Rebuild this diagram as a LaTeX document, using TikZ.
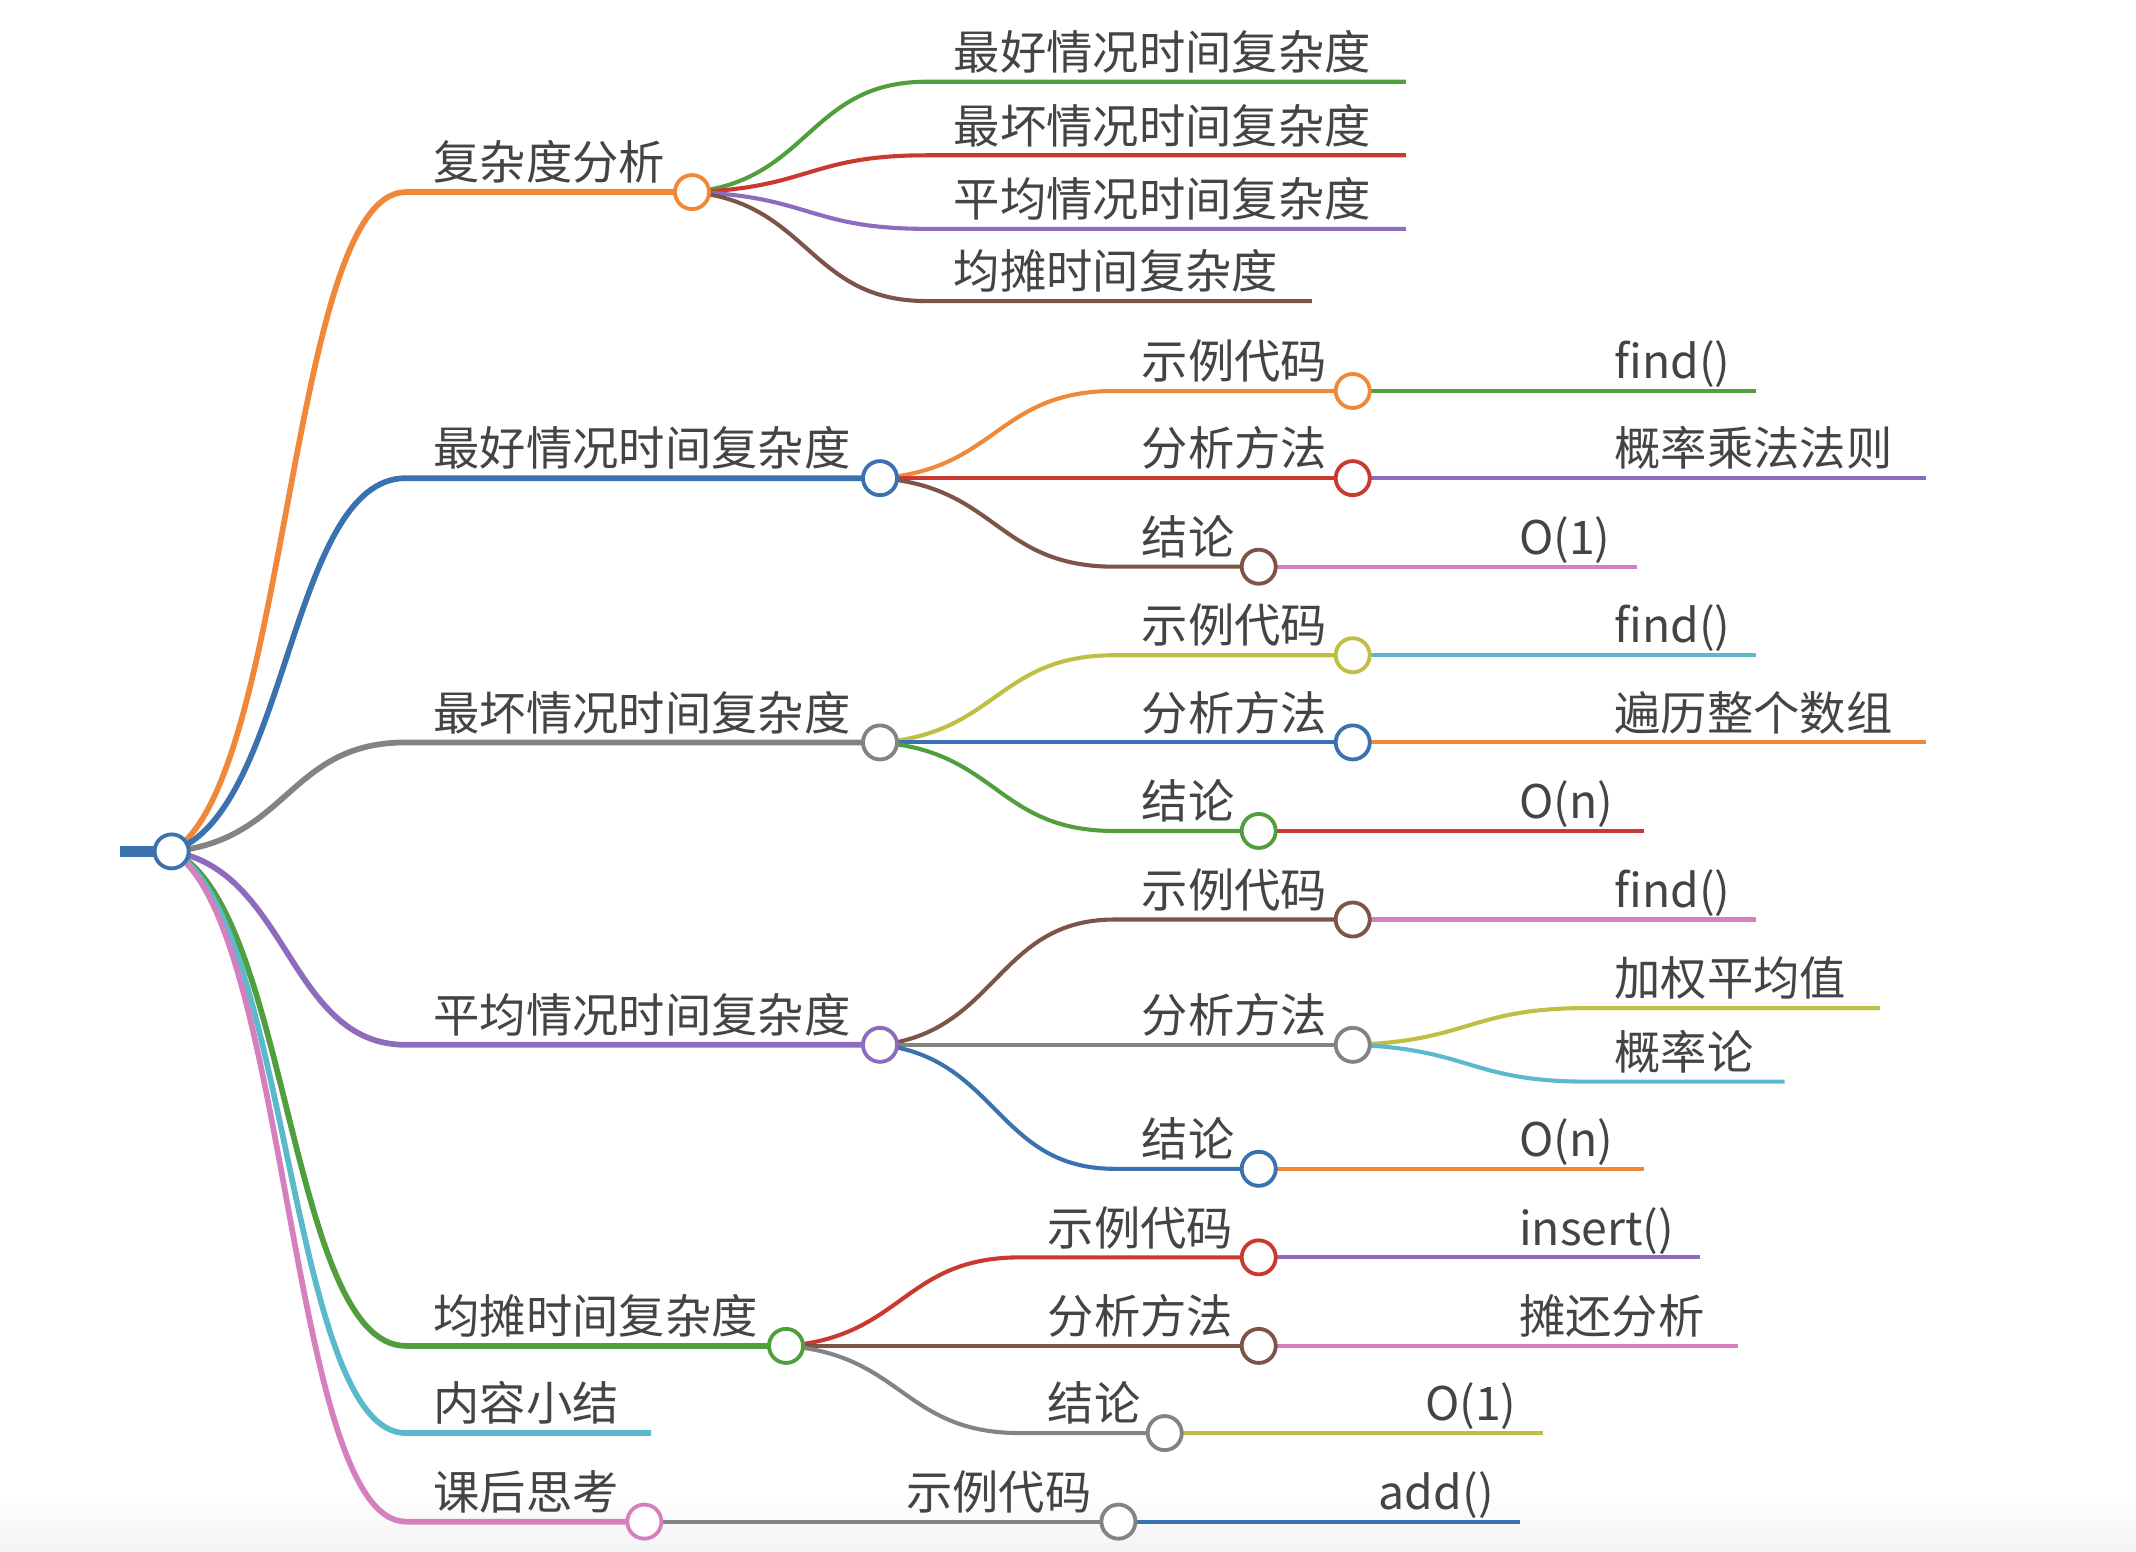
\documentclass[tikz,border=0pt]{standalone}
\usepackage{fontspec}
\setmainfont{Noto Sans CJK SC}
\usetikzlibrary{calc}
\pgfdeclarelayer{bg}
\pgfdeclarelayer{paper}
\pgfsetlayers{paper,bg,main}
\definecolor{cOr}{HTML}{F0883A}
\definecolor{cBl}{HTML}{3A72B0}
\definecolor{cGy}{HTML}{838383}
\definecolor{cPu}{HTML}{8D6BBD}
\definecolor{cGr}{HTML}{519E3E}
\definecolor{cCy}{HTML}{5ABACB}
\definecolor{cPk}{HTML}{D67FBF}
\definecolor{cRd}{HTML}{C9392F}
\definecolor{cBr}{HTML}{7E5448}
\definecolor{cOl}{HTML}{BFBF43}
\definecolor{txt}{HTML}{444444}
% [width] color, from (parent centre), curve end, line end
\newcommand\mmbranch[5][3pt]{%
  \draw[#2, line width=#1] let \p1=(#3), \p2=(#4) in (\p1)
    .. controls ({\x1+0.5*(\x2-\x1)},{\y1+0.1*(\y2-\y1)}) and ({\x2-0.5*(\x2-\x1)},\y2) .. (\p2) -- (#5);}
\tikzset{
  dot/.style={circle, draw=#1, line width=2.8pt, fill=white, minimum size=25pt, inner sep=0pt},
  lbl/.style={anchor=base west, inner sep=0pt, text=txt, font=\fontsize{34}{40}\selectfont},
}
\begin{document}
\begin{tikzpicture}[x=1pt,y=-1pt]
\begin{pgfonlayer}{paper}
\fill[white] (0,0) rectangle (1568,1139);
\fill[top color=white, bottom color=gray!9] (0,1095) rectangle (1568,1139);
\end{pgfonlayer}
\useasboundingbox (0,0) rectangle (1568,1139);

% root
\node[dot=cBl] (root) at (126,625) {};
\coordinate (stub) at (88,625);

% level 1
\coordinate (sA) at (298,141); \node[dot=cOr] (cA) at (508,141) {}; \node[lbl] (tA) at (318,132) {复杂度分析};
\coordinate (sB) at (298,351); \node[dot=cBl] (cB) at (646,351) {}; \node[lbl] (tB) at (318,342) {最好情况时间复杂度};
\coordinate (sC) at (298,545); \node[dot=cGy] (cC) at (646,545) {}; \node[lbl] (tC) at (318,536) {最坏情况时间复杂度};
\coordinate (sD) at (298,767); \node[dot=cPu] (cD) at (646,767) {}; \node[lbl] (tD) at (318,758) {平均情况时间复杂度};
\coordinate (sE) at (298,988); \node[dot=cGr] (cE) at (577,988) {}; \node[lbl] (tE) at (318,979) {均摊时间复杂度};
\coordinate (sF) at (298,1052); \coordinate (eF) at (478,1052); \node[lbl] (tF) at (318,1043) {内容小结};
\coordinate (sG) at (298,1117); \node[dot=cPk] (cG) at (473,1117) {}; \node[lbl] (tG) at (318,1108) {课后思考};

% level 2 under A
\coordinate (sA1) at (680,60);  \coordinate (eA1) at (1032,60);  \node[lbl] (tA1) at (700,51)  {最好情况时间复杂度};
\coordinate (sA2) at (680,114); \coordinate (eA2) at (1032,114); \node[lbl] (tA2) at (700,105) {最坏情况时间复杂度};
\coordinate (sA3) at (680,168); \coordinate (eA3) at (1032,168); \node[lbl] (tA3) at (700,159) {平均情况时间复杂度};
\coordinate (sA4) at (680,221); \coordinate (eA4) at (963,221);  \node[lbl] (tA4) at (700,212) {均摊时间复杂度};

% level 2/3 under B
\coordinate (sB1) at (818,287); \node[dot=cOr] (cB1) at (993,287) {}; \node[lbl] (tB1) at (838,278) {示例代码};
\coordinate (sB2) at (818,351); \node[dot=cRd] (cB2) at (993,351) {}; \node[lbl] (tB2) at (838,342) {分析方法};
\coordinate (sB3) at (818,416); \node[dot=cBr] (cB3) at (924,416) {}; \node[lbl] (tB3) at (838,407) {结论};
\coordinate (sB1a) at (1165,287); \coordinate (eB1a) at (1289,287); \node[lbl] (tB1a) at (1185,278) {find()};
\coordinate (sB2a) at (1165,351); \coordinate (eB2a) at (1414,351); \node[lbl] (tB2a) at (1185,342) {概率乘法法则};
\coordinate (sB3a) at (1095,416); \coordinate (eB3a) at (1202,416); \node[lbl] (tB3a) at (1115,407) {O(1)};

% level 2/3 under C
\coordinate (sC1) at (818,481); \node[dot=cOl] (cC1) at (993,481) {}; \node[lbl] (tC1) at (838,472) {示例代码};
\coordinate (sC2) at (818,545); \node[dot=cBl] (cC2) at (993,545) {}; \node[lbl] (tC2) at (838,536) {分析方法};
\coordinate (sC3) at (818,610); \node[dot=cGr] (cC3) at (924,610) {}; \node[lbl] (tC3) at (838,601) {结论};
\coordinate (sC1a) at (1165,481); \coordinate (eC1a) at (1289,481); \node[lbl] (tC1a) at (1185,472) {find()};
\coordinate (sC2a) at (1165,545); \coordinate (eC2a) at (1414,545); \node[lbl] (tC2a) at (1185,536) {遍历整个数组};
\coordinate (sC3a) at (1095,610); \coordinate (eC3a) at (1207,610); \node[lbl] (tC3a) at (1115,601) {O(n)};

% level 2/3 under D
\coordinate (sD1) at (818,675); \node[dot=cBr] (cD1) at (993,675) {}; \node[lbl] (tD1) at (838,666) {示例代码};
\coordinate (sD2) at (818,767); \node[dot=cGy] (cD2) at (993,767) {}; \node[lbl] (tD2) at (838,758) {分析方法};
\coordinate (sD3) at (818,858); \node[dot=cBl] (cD3) at (924,858) {}; \node[lbl] (tD3) at (838,849) {结论};
\coordinate (sD1a) at (1165,675); \coordinate (eD1a) at (1289,675); \node[lbl] (tD1a) at (1185,666) {find()};
\coordinate (sD2a) at (1165,740); \coordinate (eD2a) at (1380,740); \node[lbl] (tD2a) at (1185,731) {加权平均值};
\coordinate (sD2b) at (1165,794); \coordinate (eD2b) at (1310,794); \node[lbl] (tD2b) at (1185,785) {概率论};
\coordinate (sD3a) at (1095,858); \coordinate (eD3a) at (1207,858); \node[lbl] (tD3a) at (1115,849) {O(n)};

% level 2/3 under E
\coordinate (sE1) at (749,923);  \node[dot=cRd] (cE1) at (924,923) {};  \node[lbl] (tE1) at (769,914)  {示例代码};
\coordinate (sE2) at (749,988);  \node[dot=cBr] (cE2) at (924,988) {};  \node[lbl] (tE2) at (769,979)  {分析方法};
\coordinate (sE3) at (749,1052); \node[dot=cGy] (cE3) at (855,1052) {}; \node[lbl] (tE3) at (769,1043) {结论};
\coordinate (sE1a) at (1095,923);  \coordinate (eE1a) at (1248,923);  \node[lbl] (tE1a) at (1115,914)  {insert()};
\coordinate (sE2a) at (1095,988);  \coordinate (eE2a) at (1276,988);  \node[lbl] (tE2a) at (1115,979)  {摊还分析};
\coordinate (sE3a) at (1026,1052); \coordinate (eE3a) at (1133,1052); \node[lbl] (tE3a) at (1046,1043) {O(1)};

% level 2/3 under G
\coordinate (sG1) at (645,1117); \node[dot=cGy] (cG1) at (821,1117) {}; \node[lbl] (tG1) at (665,1108) {示例代码};
\coordinate (sG1a) at (992,1117); \coordinate (eG1a) at (1116,1117); \node[lbl] (tG1a) at (1012,1108) {add()};

\begin{pgfonlayer}{bg}
\draw[cBl, line width=7.5pt] (stub) -- (root.center);
\mmbranch[4.2pt]{cOr}{root.center}{sA}{cA.center}
\mmbranch[4.2pt]{cBl}{root.center}{sB}{cB.center}
\mmbranch[4.2pt]{cGy}{root.center}{sC}{cC.center}
\mmbranch[4.2pt]{cPu}{root.center}{sD}{cD.center}
\mmbranch[4.2pt]{cGr}{root.center}{sE}{cE.center}
\mmbranch[4.2pt]{cCy}{root.center}{sF}{eF}
\mmbranch[4.2pt]{cPk}{root.center}{sG}{cG.center}

\mmbranch{cGr}{cA.center}{sA1}{eA1}
\mmbranch{cRd}{cA.center}{sA2}{eA2}
\mmbranch{cPu}{cA.center}{sA3}{eA3}
\mmbranch{cBr}{cA.center}{sA4}{eA4}

\mmbranch{cOr}{cB.center}{sB1}{cB1.center}
\mmbranch{cRd}{cB.center}{sB2}{cB2.center}
\mmbranch{cBr}{cB.center}{sB3}{cB3.center}
\mmbranch{cGr}{cB1.center}{sB1a}{eB1a}
\mmbranch{cPu}{cB2.center}{sB2a}{eB2a}
\mmbranch{cPk}{cB3.center}{sB3a}{eB3a}

\mmbranch{cOl}{cC.center}{sC1}{cC1.center}
\mmbranch{cBl}{cC.center}{sC2}{cC2.center}
\mmbranch{cGr}{cC.center}{sC3}{cC3.center}
\mmbranch{cCy}{cC1.center}{sC1a}{eC1a}
\mmbranch{cOr}{cC2.center}{sC2a}{eC2a}
\mmbranch{cRd}{cC3.center}{sC3a}{eC3a}

\mmbranch{cBr}{cD.center}{sD1}{cD1.center}
\mmbranch{cGy}{cD.center}{sD2}{cD2.center}
\mmbranch{cBl}{cD.center}{sD3}{cD3.center}
\mmbranch{cPk}{cD1.center}{sD1a}{eD1a}
\mmbranch{cOl}{cD2.center}{sD2a}{eD2a}
\mmbranch{cCy}{cD2.center}{sD2b}{eD2b}
\mmbranch{cOr}{cD3.center}{sD3a}{eD3a}

\mmbranch{cRd}{cE.center}{sE1}{cE1.center}
\mmbranch{cBr}{cE.center}{sE2}{cE2.center}
\mmbranch{cGy}{cE.center}{sE3}{cE3.center}
\mmbranch{cPu}{cE1.center}{sE1a}{eE1a}
\mmbranch{cPk}{cE2.center}{sE2a}{eE2a}
\mmbranch{cOl}{cE3.center}{sE3a}{eE3a}

\mmbranch{cGy}{cG.center}{sG1}{cG1.center}
\mmbranch{cBl}{cG1.center}{sG1a}{eG1a}
\end{pgfonlayer}
\end{tikzpicture}
\end{document}
